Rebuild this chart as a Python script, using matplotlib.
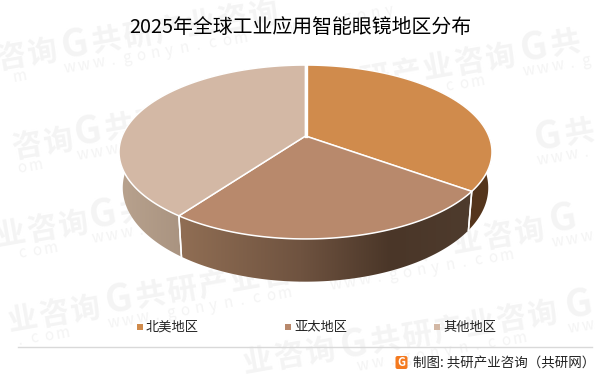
"""2025 global industrial smart glasses region share, fake 3D pie."""
import numpy as np
import matplotlib; matplotlib.use("Agg")
import matplotlib.pyplot as plt
from matplotlib.patches import Polygon, FancyBboxPatch

plt.rcParams["font.family"] = ["Noto Sans CJK SC", "DejaVu Sans"]

title = "2025年全球工业应用智能眼镜地区分布"
regions = ["北美地区", "亚太地区", "其他地区"]
shares = [35, 25, 40]
top_colors = ["#d08b4c", "#b8896c", "#d3b8a5"]
# wall gradient stops: (x pixel, colour) per slice
wall_grads = [
    [(460, "#54351c"), (490, "#54351c")],
    [(185, "#8f6d53"), (300, "#6f5340"), (390, "#4a3628"), (466, "#4e3b2d")],
    [(119, "#b8a28e"), (186, "#a8927f")],
]

fig = plt.figure(figsize=(6.01, 3.77), dpi=100)
ax = fig.add_axes([0, 0, 1, 1])
ax.set_xlim(0, 601); ax.set_ylim(377, 0); ax.axis("off")

# perspective of the pie disc (pixel units)
CX, APEX, K, B, C = 305.5, 136, 0.184, 84, 183.3
DROP, SX, SY = 34.5, 0.98, 1.08


def disc(theta, bottom=False):
    # theta clockwise from 12 o'clock
    u, v = np.sin(theta), np.cos(theta)
    w = 1 + K * v
    x, y = C * u / w, -B * v / w
    if bottom:
        return CX + SX * x, APEX + DROP + SY * y
    return CX + x, APEX + y


def rgb(h):
    return np.array(matplotlib.colors.to_rgb(h))


def wall(t0, t1, grad):
    th = np.linspace(t0, t1, 200)
    xt, yt = disc(th)
    xb, yb = disc(th, True)
    pts = np.r_[np.c_[xt, yt], np.c_[xb, yb][::-1]]
    poly = Polygon(pts, closed=True, fc="none", ec="none")
    ax.add_patch(poly)
    xs = np.arange(100, 505)
    stops = [g[0] for g in grad]
    cols = np.array([rgb(g[1]) for g in grad])
    img = np.stack([np.interp(xs, stops, cols[:, i]) for i in range(3)], axis=-1)[None, :, :]
    im = ax.imshow(img, extent=(100, 505, 300, 50), aspect="auto", zorder=1)
    im.set_clip_path(poly)
    # white hairline on the splits
    ax.plot(pts[:, 0][[0, -1]], pts[:, 1][[0, -1]], color="white", lw=1.1, zorder=2)
    ax.plot(pts[:, 0][[199, 200]], pts[:, 1][[199, 200]], color="white", lw=1.1, zorder=2)


edges = np.r_[0, np.cumsum(shares)] / np.sum(shares) * 2 * np.pi
for i in range(len(shares)):
    wall(edges[i], edges[i + 1], wall_grads[i])

for i in range(len(shares)):
    th = np.linspace(edges[i], edges[i + 1], 200)
    xs, ys = disc(th)
    ax.add_patch(Polygon(np.r_[[[CX, APEX]], np.c_[xs, ys]], closed=True,
                         fc=top_colors[i], ec="white", lw=1.1, zorder=3))
# the split at 12 o'clock reads wider
ax.plot([CX, CX], [APEX, 64], color="white", lw=2.4, zorder=4)
ax.set_xlim(0, 601); ax.set_ylim(377, 0)

# watermarks: glyph by glyph, those off the canvas are dropped
wm_name = "G共研产业咨询"
wm_url = "www.gonyn.com"
wm_pos = [(-146, 83), (75, 45), (295, 5), (312, 88), (534, 48),
          (-130, 172), (88, 132), (548, 137),
          (-115, 255), (103, 215), (341, 262), (563, 219),
          (-103, 340), (119, 300), (354, 345), (579, 305), (132, 382)]


def stamp(chars, x, y, dx, dy, **kw):
    for j, ch in enumerate(chars):
        gx, gy = x + j * dx, y + j * dy
        if 10 < gx < 590 and 10 < gy < 367:
            ax.text(gx, gy, ch, rotation=10, ha="center", va="center",
                    color="#f4f4f4", zorder=0, **kw)


for x, y in wm_pos:
    stamp(wm_name[0], x, y, 0, 0, fontsize=27, fontweight="bold")
    stamp(wm_name[1:], x + 31.4, y - 5, 31.4, -5, fontsize=21.5, fontweight="bold")
    stamp(wm_url, x - 5, y + 23, 14.25, -2.5, fontsize=11)

ax.text(300, 27, title, fontsize=14.3, color="black", ha="center", va="center", zorder=5)

# legend
leg_x = [139.5, 288, 436.5]
for name, col, lx in zip(regions, top_colors, leg_x):
    ax.scatter([lx], [327], marker="s", s=14, color=col, linewidths=0, zorder=5)
    ax.text(lx + 6.5, 327, name, fontsize=9.5, color="#222222", ha="left", va="center", zorder=5)

ax.plot([18, 592], [347, 347], color="#d9d9d9", lw=1, zorder=5)

# logo + source
ax.add_patch(FancyBboxPatch((396.5, 357), 10, 11, boxstyle="round,pad=1,rounding_size=2",
                            fc="#f47a20", ec="none", zorder=5))
ax.text(401.5, 362.5, "G", fontsize=8, fontweight="bold", color="white", ha="center", va="center", zorder=6)
ax.text(413, 363.5, "制图: 共研产业咨询（共研网）", fontsize=9.7, color="#222222",
        ha="left", va="center", zorder=5)

fig.savefig("out.png", dpi=100)
